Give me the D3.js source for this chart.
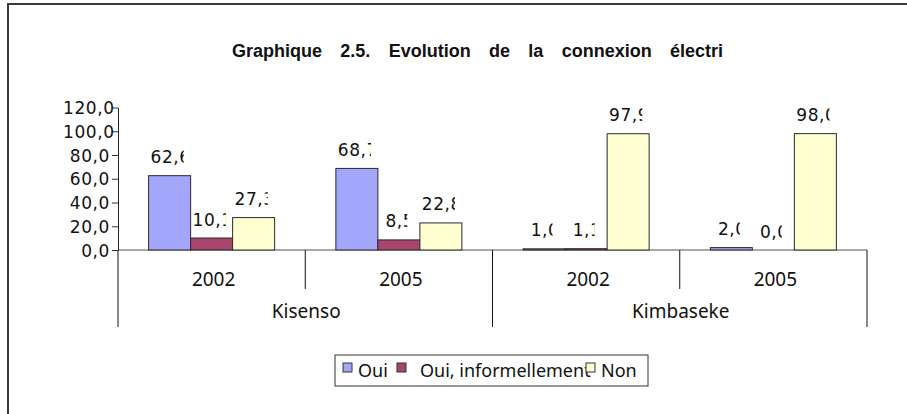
<!DOCTYPE html>
<html>
<head>
<meta charset="utf-8">
<script src="https://cdn.jsdelivr.net/npm/d3@7"></script>
<style>
  body { margin: 0; background: #fff; }
  svg { display: block; }
  .num { font-family: 'DejaVu Sans', sans-serif; font-size: 17px; letter-spacing: 0.6px; fill: #111; }
  .cat { font-family: 'Noto Sans', sans-serif; font-size: 19px; fill: #111; }
  .leg { font-family: 'Noto Sans', sans-serif; font-size: 18px; fill: #111; }
  .title { font-family: 'Liberation Sans', sans-serif; font-size: 18px; font-weight: bold; fill: #111; }
</style>
</head>
<body>
<div id="chart"></div>
<script>
const titleText = 'Graphique 2.5. Evolution de la connexion électri';
const groups = ['Kisenso', 'Kimbaseke'];
const years = ['2002', '2005', '2002', '2005'];
const yearGroup = ['Kisenso', 'Kisenso', 'Kimbaseke', 'Kimbaseke'];
const seriesNames = ['Oui', 'Oui, informellement', 'Non'];
const oui = [62.6, 68.7, 1.0, 2.0];
const ouiInformel = [10.1, 8.5, 1.1, 0.0];
const non = [27.3, 22.8, 97.9, 98.0];
const yTicks = [0, 20, 40, 60, 80, 100, 120];

const colors = ['#a3a6fa', '#a8456f', '#ffffd2'];
const seriesValues = [oui, ouiInformel, non];

const width = 907;
const height = 414;
const plot = { left: 118, right: 867, top: 107.5, bottom: 250 };

const svg = d3.select('#chart').append('svg')
  .attr('width', width)
  .attr('height', height);

svg.append('rect')
  .attr('width', width)
  .attr('height', height)
  .style('fill', '#fff');

// outer frame (right and bottom sides run off the picture)
svg.append('rect')
  .attr('x', 8)
  .attr('y', 4)
  .attr('width', 940)
  .attr('height', 440)
  .style('fill', 'none')
  .style('stroke', '#3a3a3a')
  .style('stroke-width', 2);

// title, words spread out to fill its width
const title = svg.append('text')
  .attr('class', 'title')
  .attr('x', 232)
  .attr('y', 57)
  .text(titleText);
const natural = title.node().getComputedTextLength();
const spaces = titleText.split(' ').length - 1;
title.style('word-spacing', `${Math.max(0, (491 - natural) / spaces)}px`);

const keys = years.map((y, i) => `${yearGroup[i]}-${y}`);

const x0 = d3.scaleBand()
  .domain(keys)
  .range([plot.left, plot.right]);

const gap = x0.bandwidth() * 0.327;
const x1 = d3.scaleBand()
  .domain(seriesNames)
  .range([gap / 2, x0.bandwidth() - gap / 2]);

const yScale = d3.scaleLinear()
  .domain([0, 120])
  .range([plot.bottom, plot.top]);

// y axis
const yAxis = d3.axisLeft(yScale)
  .tickValues(yTicks)
  .tickSizeInner(6)
  .tickSizeOuter(0)
  .tickFormat(d => d3.format('.1f')(d).replace('.', ','));

const yG = svg.append('g')
  .attr('transform', `translate(${plot.left},0)`)
  .call(yAxis);

yG.select('.domain').style('stroke', '#222');
yG.selectAll('.tick line').style('stroke', '#333');
yG.selectAll('.tick text')
  .attr('class', 'num')
  .attr('font-size', null)
  .attr('font-family', null)
  .attr('dy', '0.36em')
  .attr('text-anchor', 'start')
  .attr('x', function () {
    const w = this.getComputedTextLength();
    return Math.max(63, 110 - w) - plot.left;
  });

// x axis baseline
svg.append('line')
  .attr('x1', plot.left)
  .attr('x2', plot.right)
  .attr('y1', plot.bottom)
  .attr('y2', plot.bottom)
  .style('stroke', '#555');

// bars
const defs = svg.append('defs');
const barGroup = svg.append('g').attr('class', 'bars');
const labelGroup = svg.append('g').attr('class', 'labels');

seriesNames.forEach((name, s) => {
  seriesValues[s].forEach((v, i) => {
    const bx = x0(keys[i]) + x1(name);
    const bw = x1.bandwidth();
    barGroup.append('rect')
      .attr('x', bx)
      .attr('y', yScale(v))
      .attr('width', bw)
      .attr('height', yScale(0) - yScale(v))
      .style('fill', colors[s])
      .style('stroke', '#2a2a2a')
      .style('stroke-width', 1);

    const cx = bx + bw / 2 + 1;
    const label = labelGroup.append('text')
      .attr('class', 'num')
      .attr('x', cx)
      .attr('y', yScale(v) - 12.5)
      .attr('text-anchor', 'middle')
      .text(d3.format('.1f')(v).replace('.', ','));

    // labels are cut short like in the original sheet
    const tw = label.node().getComputedTextLength();
    const clipW = tw - 7;
    const id = `clip-${s}-${i}`;
    defs.append('clipPath')
      .attr('id', id)
      .append('rect')
      .attr('x', cx - tw / 2)
      .attr('y', yScale(v) - 40)
      .attr('width', clipW)
      .attr('height', 40);
    label.attr('clip-path', `url(#${id})`);
  });
});

// category separators and labels
const catG = svg.append('g').attr('class', 'categories');
keys.forEach((k, i) => {
  catG.append('text')
    .attr('class', 'cat')
    .attr('x', x0(k) + x0.bandwidth() / 2 + 2)
    .attr('y', 286)
    .attr('text-anchor', 'middle')
    .text(years[i]);
});

const boundaries = keys.map(k => x0(k)).concat([plot.right]);
boundaries.forEach((bx, i) => {
  const outer = i % 2 === 0;
  catG.append('line')
    .attr('x1', bx)
    .attr('x2', bx)
    .attr('y1', plot.bottom)
    .attr('y2', outer ? 327 : 289)
    .style('stroke', '#111');
});

groups.forEach((g, gi) => {
  const first = x0(keys[gi * 2]);
  const last = x0(keys[gi * 2 + 1]) + x0.bandwidth();
  catG.append('text')
    .attr('class', 'cat')
    .attr('x', (first + last) / 2 + 1)
    .attr('y', 318)
    .attr('text-anchor', 'middle')
    .text(g);
});

// legend
const legend = svg.append('g').attr('class', 'legend');
legend.append('rect')
  .attr('x', 335)
  .attr('y', 355)
  .attr('width', 313)
  .attr('height', 31)
  .style('fill', '#fff')
  .style('stroke', '#333');

const itemX = [343, 397, 586];
const textX = [358, 420, 601];
seriesNames.forEach((name, s) => {
  legend.append('text')
    .attr('class', 'leg')
    .attr('x', textX[s])
    .attr('y', 377)
    .text(name);
});
seriesNames.forEach((name, s) => {
  legend.append('rect')
    .attr('x', itemX[s])
    .attr('y', 363)
    .attr('width', 9)
    .attr('height', 9)
    .style('fill', colors[s])
    .style('stroke', '#333');
});
</script>
</body>
</html>
